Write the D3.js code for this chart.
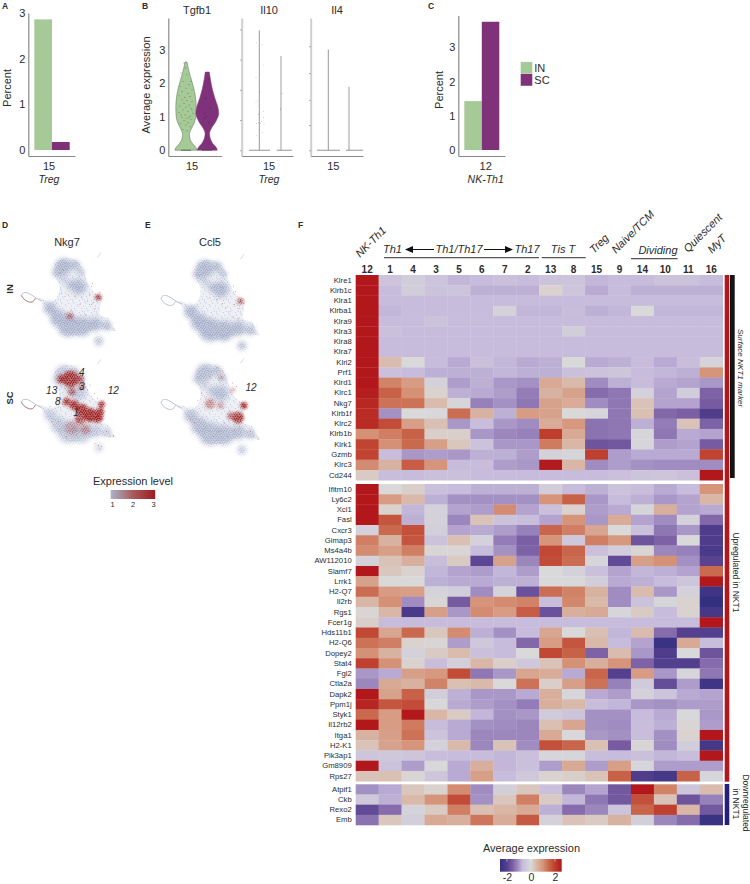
<!DOCTYPE html>
<html>
<head>
<meta charset="utf-8">
<script src="https://cdn.jsdelivr.net/npm/d3@7"></script>
<style>
  html, body { margin: 0; padding: 0; background: #fff; }
  svg { display: block; }
  text { font-family: "Liberation Sans", Arial, sans-serif; fill: #2b2b2b; }
</style>
</head>
<body>
<div id="chart"></div>
<script>
// Colours
const green = "#a5c997", purple = "#7f3279";
const axisGrey = "#8a8a8a";

// Panel A and C bars
const groups = ["IN", "SC"];
const tregPercent = [2.86, 0.175];
const nkth1Percent = [1.43, 3.75];

// Panel B violin outlines: [value, half width]
const tgfb1In = [[0, 11.2], [0.08, 10], [0.2, 6.5], [0.32, 4.2], [0.47, 3.4], [0.62, 5], [0.8, 8], [1, 9.8], [1.3, 10.2], [1.6, 9.4], [1.9, 7.4], [2.2, 4.4], [2.45, 2.2], [2.63, 1]];
const tgfb1Sc = [[0, 10], [0.08, 9], [0.2, 5.5], [0.35, 3], [0.5, 2.2], [0.65, 4], [0.85, 8.4], [1.1, 11.4], [1.3, 10.4], [1.55, 7.6], [1.8, 5.2], [2.1, 3.2], [2.33, 2]];
// jittered cells: [offset, value]
const tgfb1InDots = [[-5, 2.3], [1, 2.25], [5, 2.05], [-3, 2.05], [3, 1.95], [-6, 1.9], [0, 1.85], [6, 1.8], [-4, 1.75], [2, 1.7], [-7, 1.62], [4, 1.6], [-1, 1.58], [-4, 1.5], [1, 1.48], [6, 1.45], [-2, 1.4], [3, 1.35], [-6, 1.32], [0, 1.28], [5, 1.25], [-3, 1.2], [2, 1.15], [-7, 1.12], [7, 1.1], [-1, 1.05], [4, 1.02], [-4, 0.98], [1, 0.95], [5, 0.92], [-2, 0.88], [2, 0.82], [-5, 0.8], [0, 0.75], [4, 0.7], [-3, 0.62], [1, 0.58], [-0.5, 2.45], [-2, 2.6], [6, 1.2], [-5, 1.05], [3, 0.98]];
const tgfb1ScDots = [[1, 2.1], [-2, 1.55], [3, 1.25], [-1, 1], [-3, 0.95], [1, 0.82], [-2.5, 1.1]];
const il10InDots = [[-2.7, 3.2], [3, 3.14], [4, 2.54], [-3.3, 2.17], [0.7, 1.73], [-2, 1.47], [-3.3, 1.43], [0, 1.11], [-1, 1.07], [4, 1.16], [4, 0.97], [2.3, 0.86], [-1, 0.82], [1.3, 0.8], [4.7, 0.78], [-2.7, 0.8], [3.3, 0.53], [-2.7, 0.43]];
const il10ScDots = [[0, 1.69], [1.7, 1.69], [-0.3, 1.24], [-0.3, 1.2]];
const il10Max = [3.57, 2.81];
const il4Max = [3, 1.89];

// Panel D/E: UMAP in common units
const bodyOutline = [[195, 130], [225, 135], [248, 160], [262, 200], [285, 235], [305, 245], [302, 270], [300, 300], [325, 310], [335, 330], [348, 347], [320, 345], [295, 342], [260, 350], [225, 362], [190, 350], [165, 320], [140, 285], [120, 258], [108, 252], [125, 250], [150, 262], [168, 250], [178, 215], [165, 180], [165, 150]];
const tailLoop = [[125, 258], [102, 246], [86, 233], [70, 232], [63, 240], [70, 252], [85, 262], [100, 262], [106, 250]];
const tailRed = [[63, 240], [70, 252], [85, 262], [100, 262], [106, 250]];
const topTip = [[292, 128], [297, 120], [303, 113]];
const denseBlobs = [[190, 155, 24], [172, 172, 14], [225, 150, 13], [242, 170, 9], [235, 215, 22], [212, 208, 12], [190, 192, 8], [150, 280, 18], [175, 310, 24], [205, 332, 32], [245, 335, 28], [285, 328, 20], [320, 333, 12], [296, 378, 11]];

// red clusters: [u, v, r, opacity]
const nkg7InBlobs = [[295, 247, 9, 0.8], [210, 303, 10, 0.5]];
const nkg7ScBlobs = [[212, 172, 24, 0.9], [185, 172, 13, 0.85], [240, 172, 11, 0.7], [200, 240, 11, 0.9], [222, 250, 14, 0.9], [245, 265, 18, 0.95], [270, 280, 20, 1], [292, 285, 17, 1], [305, 248, 9, 1], [300, 270, 11, 1], [240, 292, 15, 0.7], [215, 210, 11, 0.55], [245, 195, 9, 0.5], [215, 318, 20, 0.25], [255, 322, 16, 0.3]];
const ccl5InBlobs = [[292, 249, 8, 0.65]];
const ccl5ScBlobs = [[302, 250, 9, 1], [285, 285, 16, 0.85], [265, 280, 11, 0.5], [205, 245, 14, 0.4], [235, 250, 10, 0.3], [235, 170, 7, 0.3], [270, 205, 7, 0.35]];
// single red cells: [u, v]
const nkg7InDots = [[278, 205], [275, 215], [205, 240], [225, 243], [245, 248], [262, 258], [275, 268], [285, 282], [258, 300], [240, 268], [195, 245], [185, 235], [215, 285], [195, 295], [225, 320], [190, 165], [180, 175], [300, 232], [268, 240], [280, 262]];
const nkg7ScDots = [[270, 190], [283, 215], [292, 230], [262, 205], [180, 215], [195, 200], [170, 240], [155, 300], [175, 300], [320, 330], [330, 345], [340, 342], [285, 365], [295, 372], [300, 382], [305, 375], [200, 345], [230, 340], [260, 335], [150, 255]];
const ccl5InDots = [[272, 205], [278, 222], [275, 258], [262, 280], [268, 295], [285, 300], [240, 255], [205, 240], [225, 245], [250, 268], [282, 262], [300, 255], [290, 270]];
const ccl5ScDots = [[150, 292], [160, 300], [230, 325], [215, 340], [255, 340], [320, 325], [330, 340], [342, 348], [225, 140], [240, 150], [270, 185], [280, 195], [205, 165], [195, 225], [180, 215], [170, 235], [245, 300], [275, 320], [290, 312]];
const clusterTagsD = [["4", 245, 152], ["3", 245, 195], ["13", 155, 205], ["8", 173, 240], ["1", 228, 272], ["12", 340, 205]];
const clusterTagsE = [["12", 322, 197]];
// speckle tile used to texture the cell clouds
const speckle = [[0.6, 1.1], [2.9, 0.3], [5.1, 1.4], [7.4, 0.5], [9.8, 1.2], [11.3, 2.6], [1.8, 2.9], [4.2, 3.1], [6.6, 2.4], [8.7, 3.2], [0.3, 4.6], [2.7, 5.2], [5.4, 4.7], [7.5, 4.9], [10.2, 4.4], [11.6, 6.1], [1.4, 6.9], [3.9, 6.7], [6.3, 6.5], [8.9, 6.8], [0.5, 8.6], [2.6, 8.4], [5, 8.8], [7.4, 8.3], [9.9, 8.5], [11.4, 9.6], [1.7, 10.4], [3.8, 10.6], [6.2, 10.2], [8.6, 10.5], [0.2, 11.7], [4.9, 11.5], [7.3, 11.8], [10.3, 11.2]];

// Panel F heatmap
const clusters = ["12", "1", "4", "3", "5", "6", "7", "2", "13", "8", "15", "9", "14", "10", "11", "16"];
const surfaceGenes = ["Klre1", "Klrb1c", "Klra1", "Klrba1", "Klra9", "Klra3", "Klra8", "Klra7", "Klri2", "Prf1", "Klrd1", "Klrc1", "Nkg7", "Klrb1f", "Klrc2", "Klrb1b", "Klrk1", "Gzmb", "Klrc3", "Cd244"];
const surfaceValues = [
  [2.6, -.5, -.3, -.5, -.75, -.7, -.6, -.7, -.55, -.5, -.75, -.7, -.7, -.55, -.55, -.7],
  [2.6, -.7, -.3, -.55, -.5, -.8, -.8, -.8, .1, -.45, -.85, -.7, -.8, -.8, -.8, -.8],
  [2.6, -.7, -.7, -.7, -.7, -.7, -.7, -.7, -.7, -.7, -.7, -.7, -.7, -.7, -.7, -.7],
  [2.6, -.75, -.7, -.7, -.7, -.7, -.2, -.75, -.75, -.65, -.8, -.75, 0, -.75, -.75, -.75],
  [2.6, -.7, -.7, -.55, -.7, -.7, -.7, -.7, -.7, -.7, -.7, -.7, -.7, -.7, -.7, -.7],
  [2.6, -.6, -.7, -.7, -.7, -.7, -.7, -.7, -.7, -.3, -.7, -.7, -.7, -.7, -.7, -.7],
  [2.6, -.7, -.7, -.7, -.7, -.7, -.7, -.7, -.7, -.7, -.7, -.7, -.7, -.7, -.7, -.7],
  [2.6, -.7, -.7, -.7, -.7, -.7, -.7, -.7, -.7, -.7, -.7, -.7, -.7, -.7, -.7, -.7],
  [2.6, .4, 0, -.7, -.85, -.6, -.75, -.85, -.8, 0, -.85, -.8, -.7, -.85, -.65, -.15],
  [2.6, -.6, -.7, -.8, -.8, -.8, -.75, -.8, -.8, -.6, -.55, -.45, -.7, -.75, -.8, 1],
  [2.6, 1.2, .9, -.2, -.95, -.8, -1, -1.05, .7, .45, -1.1, -.8, -.7, -.85, -.9, -1],
  [2.5, 1.6, 1.05, .1, -.8, -.85, -.95, -1.25, .55, .8, -1.4, -1.3, -.2, -.9, -.3, -1.5],
  [2.35, 1.4, 1.4, .4, -.1, -1.2, -1.05, -1.3, .8, .65, -1.1, -1.3, .3, -.9, -.9, -1.6],
  [2.3, -1.05, 0, -.05, 1.45, .55, -.8, .9, .8, 0, -.1, -1.3, .35, -1.45, -1.55, -2.1],
  [2.3, 1.85, .85, .35, -1, -.65, -1, -1.1, .65, .95, -1.35, -1.3, -.8, -1.25, .3, -1.5],
  [1.05, 1.25, 1.6, .15, .15, -1, -1.15, -1.2, 2.05, .7, -1.35, -1.3, -.1, -1.3, -.85, -.9],
  [1.95, 1.05, 1.5, .85, .25, -.55, -1, -1, 1.3, .5, -1.7, -1.65, -.1, -.95, -.9, -1.6],
  [1.95, -.65, -1, -.95, -1, -.8, -.8, -.95, -.2, -.1, 2, -.95, -.85, -.85, -.85, 1.95],
  [1.1, .55, 1.65, 1, -.7, -.65, -.95, -1, 2.55, .5, -1.1, -.95, -1.05, -1.1, -1.1, -1.1],
  [.2, -.65, -.7, -.6, -.6, -.7, -.7, -.7, -.7, -.7, -.7, -.6, -.5, -.45, -.6, 2.6]
];
const upGenes = ["Ifitm10", "Ly6c2", "Xcl1", "Fasl", "Cxcr3", "Gimap3", "Ms4a4b", "AW112010", "Slamf7", "Lrrk1", "H2-Q7", "Il2rb", "Rgs1", "Fcer1g", "Hds11b1", "H2-Q6", "Dopey2", "Stat4", "Fgl2", "Ctla2a", "Dapk2", "Ppm1j", "Styk1", "Il12rb2", "Itga1", "H2-K1", "Pik3ap1", "Gm8909", "Rps27"];
const upValues = [
  [2.6, 0, .15, -.6, -.7, -.8, -.8, -.8, -.3, -.7, -.8, -.55, -.65, -.85, -.7, 1],
  [2.6, .9, .45, -.8, -1.05, -1.05, -1.05, -1.05, 1, 1.6, -1, -.7, -.8, -1, -.9, .5],
  [2.6, .1, -.75, -.2, -.9, -.95, 1.1, -.9, -.6, .1, -.95, -.85, -.1, .6, -.9, -.85],
  [2.6, 1.75, -.8, -.2, -1.15, .3, -.55, -.65, -.9, 1, -1, .65, -.9, -1.1, -.2, -1.45],
  [-.2, 1.5, 1.8, -.25, -.9, -.85, -.95, -1.2, 1.55, 1.25, .75, 0, -.6, -1.3, -1, -2.1],
  [1.25, .55, 1.75, -.55, .35, -.2, -1.25, -1.55, 1, -.4, 1.25, .95, -1.7, -1.5, 0, -2.1],
  [1.1, .85, 1.25, .05, .05, -.7, -1.05, -1.5, 1.9, 1.55, -.6, -.3, .05, -1.15, -1.2, -2.2],
  [-.15, .3, .6, -.65, .2, -1.9, .8, -1.15, 1.85, 1.45, -.1, -1.85, .85, 1.05, -1.05, -1.95],
  [2.6, .25, .1, -.75, -.9, -.95, -.75, -.95, 0, -.2, -.6, -.9, -.75, -.8, -.9, 1.5],
  [.8, 0, 0, -.8, -.85, -.85, -.8, -.8, 0, -.05, -.3, -.85, -.8, -.7, -.45, 2.6],
  [1.45, .9, .85, -.15, -.3, -1.1, -.15, -1.75, 1.45, 1.2, .55, -1.1, .4, -1, -.2, -2.4],
  [.5, 1.05, -1.1, .05, -1.6, 1, 1.1, 1.2, -.65, 1.15, .45, -1.1, -.55, -.1, .1, -2.6],
  [.05, .5, -2.2, .85, -1, 1.1, .9, 1.65, -1.75, .6, .7, -.1, .2, -.7, .1, -2.3],
  [.15, -.7, -.7, -.7, -.7, -.7, -.7, -.7, -.7, -.7, -.7, -.7, -.7, -.7, -.7, 2.6],
  [1.9, .75, 1.5, .25, 1.1, -.8, -1.05, -.7, .75, 0, .35, -.75, .4, -1.4, -2, -2.05],
  [1.4, 1.25, .1, .05, -.95, -.4, -.7, -1.45, .9, 1.75, .45, -.7, -.9, -2.5, .7, -.65],
  [1.05, .55, -.2, .2, .4, -.6, -.7, 0, 1.9, 1.6, -1.5, .4, -1, -2.1, 0, -1.7],
  [2, 1.05, .1, -.65, -.25, .5, .15, -.4, .3, 1.05, .6, 1, -1.5, -2.05, -2.05, -1.4],
  [-1, -.85, .85, .95, 1.85, -1.3, -1, .75, .65, -.85, 1.55, -2, .9, -1, -.1, -1.3],
  [-1.15, .7, .55, 1.2, .35, .45, 0, 1.4, .15, .85, 1.4, -1.2, -.35, -1.8, -.95, -2.4],
  [2.6, .8, 1.6, -.3, -.8, -1, -1, -.85, .6, -.1, -.85, -.95, -.2, -.5, -.85, -.9],
  [2.4, 1.75, 1.85, -.05, -.85, -.95, -1.05, -1.25, .6, .45, -.65, -.75, -1, -1.05, -.95, -.95],
  [1.5, .9, 2.6, .5, .2, -.75, -1.05, -1, -.35, -.5, -1.05, -1.05, -.7, -.85, -.05, -1],
  [2.6, .9, 1.3, -.7, -.85, -1.05, -1.1, -1.15, .35, .75, -1.05, -1.1, -.65, -.8, .05, -.95],
  [.55, .85, 1.4, -.5, -.85, -1.15, -1.15, -1.15, .7, -.05, -1, -1.05, -.65, -1.05, .1, 2.6],
  [.3, .8, 1, -.2, .45, -1.15, .3, -1.1, 1.8, 1.55, .35, -1.6, .05, -1.1, -.3, -2.3],
  [-.45, -.4, -.45, -.65, -.7, -.7, -.75, -.6, -.1, -.1, -.65, -.7, -.6, -.75, -.65, 2.6],
  [2.6, -.55, -.95, -.05, -.85, .6, -.75, -.6, -.95, .7, -.95, .85, -.1, -.95, -.95, -.95],
  [.3, .35, .05, -.45, -.85, .85, -.7, -.4, .1, .15, .3, 1.6, -2.1, -2.3, 1.6, -.1]
];
const downGenes = ["Atpif1", "Ckb", "Rexo2", "Emb"];
const downValues = [
  [-1.05, -.85, .25, .1, 1.1, -1.1, -.25, .25, -.6, -1.15, -.9, -1.65, 2.6, 1.2, -.45, .4],
  [-.4, -.8, .45, 1, 1.85, -1.05, .25, 1.25, .2, -.75, -1.3, -1.65, 1.8, .3, -1.7, -1.2],
  [-1.85, -1.4, -.15, .2, 1.25, .35, .5, .7, -.8, -1.4, -1.15, -.5, 1.55, 2, .5, -1.65],
  [-1.35, .25, -.25, .7, .6, 1.35, .65, 1.7, -.2, .3, .2, .55, -.25, -1.15, -1.4, -2.5]
];
const colorStops = [-2.6, -2, -1.5, -1.05, -.7, 0, .4, 1, 1.5, 2, 2.6];
const colorValues = ["#33307f", "#55408f", "#7e62a6", "#a491c4", "#c7bcdc", "#d9d9d9", "#d9bcae", "#d6957a", "#c9694d", "#bf402e", "#b2171b"];
const legendTicks = [-2, 0, 2];

const svg = d3.select("#chart").append("svg")
  .attr("width", 750)
  .attr("height", 884);

const defs = svg.append("defs");
[["blur1", 1.5], ["blur2", 2.6], ["blur0", 0.5]].forEach(f => {
  defs.append("filter").attr("id", f[0]).attr("x", "-50%").attr("y", "-50%").attr("width", "200%").attr("height", "200%")
    .append("feGaussianBlur").attr("stdDeviation", f[1]);
});

function speckleTile(id, list, fill, r) {
  const p = defs.append("pattern").attr("id", id).attr("patternUnits", "userSpaceOnUse")
    .attr("width", 12).attr("height", 12);
  p.selectAll("circle").data(list).enter().append("circle")
    .attr("cx", d => d[0]).attr("cy", d => d[1]).attr("r", r).attr("fill", fill);
}
speckleTile("bodySpeckle", speckle.filter((d, i) => i % 3 === 0), "#c3c9dc", 0.6);
speckleTile("blueSpeckle", speckle, "#9ea8c4", 0.75);
speckleTile("redSpeckle", speckle, "#8f1415", 0.8);

function panelLetter(label, x, y) {
  svg.append("text").attr("x", x).attr("y", y)
    .attr("font-size", 8.5).attr("font-weight", "bold").text(label);
}
panelLetter("A", 2, 9);
panelLetter("B", 142, 9);
panelLetter("C", 428, 9);
panelLetter("D", 2, 228);
panelLetter("E", 145, 228);
panelLetter("F", 298, 228);

function styleAxis(g, size) {
  g.select(".domain").attr("stroke", axisGrey).attr("stroke-width", 1.2);
  g.selectAll("text").attr("font-size", size).attr("fill", "#2b2b2b")
    .attr("font-family", '"Liberation Sans", Arial, sans-serif');
}

// Bar panels A and C
function barPanel(values, opts) {
  const y = d3.scaleLinear().domain(opts.yDomain).range([156, opts.top]);
  const x = d3.scaleBand().domain(groups).range(opts.barX);
  svg.append("g").selectAll("rect").data(values).enter().append("rect")
    .attr("x", (d, i) => x(groups[i]))
    .attr("y", d => y(d))
    .attr("width", x.bandwidth())
    .attr("height", d => y(0) - y(d))
    .attr("fill", (d, i) => i ? purple : green);
  svg.append("g").attr("transform", `translate(${opts.axisX},0)`)
    .call(d3.axisLeft(y).tickValues([0, 1, 2, 3]).tickSize(0).tickPadding(3).tickFormat(d3.format("d")).tickSizeOuter(0))
    .call(styleAxis, 11);
  const xAxis = d3.scaleLinear().domain([0, 1]).range([opts.axisX, opts.axisEnd]);
  svg.append("g").attr("transform", "translate(0,156)")
    .call(d3.axisBottom(xAxis).tickValues([]).tickSizeOuter(0))
    .call(styleAxis, 11);
  svg.append("text").attr("x", opts.labelX).attr("y", 170).attr("text-anchor", "middle")
    .attr("font-size", 11).text(opts.cluster);
  svg.append("text").attr("x", opts.labelX).attr("y", 183).attr("text-anchor", "middle")
    .attr("font-size", 10.5).attr("font-style", "italic").text(opts.name);
  svg.append("text").attr("transform", `translate(${opts.titleX},${opts.titleY}) rotate(-90)`)
    .attr("text-anchor", "middle").attr("font-size", 11).text("Percent");
}
barPanel(tregPercent, { yDomain: [-6 / 45.7, 3], top: 13, barX: [34.3, 69.7], axisX: 28.3, axisEnd: 75, labelX: 49, cluster: "15", name: "Treg", titleX: 11, titleY: 88 });
barPanel(nkth1Percent, { yDomain: [-6 / 34.2, 3.93], top: 15.6, barX: [464.3, 499.3], axisX: 458.3, axisEnd: 505, labelX: 485.7, cluster: "12", name: "NK-Th1", titleX: 443, titleY: 90 });

// legend for bars
const barLegendY = d3.scaleBand().domain(groups).range([61.7, 86]).padding(0.02);
const barLegend = svg.append("g").selectAll("g").data(groups).enter().append("g");
barLegend.append("rect").attr("x", 520.7).attr("width", 11.6)
  .attr("y", d => barLegendY(d)).attr("height", barLegendY.bandwidth())
  .attr("fill", (d, i) => i ? purple : green);
barLegend.append("text").attr("x", 534.3).attr("y", d => barLegendY(d) + 10)
  .attr("font-size", 11).text(d => d);

// Violin panel B
const exprY = d3.scaleLinear().domain([-6 / 35, 3.94]).range([156, 18]);
const violinArea = d3.area().curve(d3.curveMonotoneY)
  .y(d => exprY(d[0]));

function violin(outline, center, fill, stroke) {
  const area = violinArea.x0(d => center - d[1]).x1(d => center + d[1]);
  svg.append("path").attr("d", area(outline))
    .attr("fill", fill).attr("stroke", stroke).attr("stroke-width", 0.5);
}
function dots(list, center, color, r) {
  svg.append("g").selectAll("circle").data(list).enter().append("circle")
    .attr("cx", d => center + d[0])
    .attr("cy", d => exprY(d[1]))
    .attr("r", r)
    .attr("fill", color);
}
function flatViolin(maxValue, center, x0, x1, color, w) {
  svg.append("line").attr("x1", center).attr("x2", center)
    .attr("y1", exprY(maxValue)).attr("y2", exprY(0))
    .attr("stroke", color).attr("stroke-width", w);
  svg.append("line").attr("x1", x0).attr("x2", x1)
    .attr("y1", exprY(0)).attr("y2", exprY(0))
    .attr("stroke", "#777").attr("stroke-width", 0.8);
}

violin(tgfb1In, 186, green, "#55704f");
violin(tgfb1Sc, 207.3, purple, purple);
dots(tgfb1InDots, 186, "#2f3d2c", 0.45);
dots(tgfb1ScDots, 207.3, "#2c1029", 0.45);
svg.append("line").attr("x1", 181).attr("x2", 191).attr("y1", exprY(0)).attr("y2", exprY(0)).attr("stroke", "#444").attr("stroke-width", 0.7);
svg.append("line").attr("x1", 202).attr("x2", 212).attr("y1", exprY(0)).attr("y2", exprY(0)).attr("stroke", "#444").attr("stroke-width", 0.7);

svg.append("g").attr("transform", "translate(168.3,0)")
  .call(d3.axisLeft(exprY).tickValues([0, 1, 2, 3]).tickSize(0).tickPadding(3).tickFormat(d3.format("d")).tickSizeOuter(0))
  .call(styleAxis, 11);
const tgfbX = d3.scaleLinear().domain([0, 1]).range([168.3, 221.7]);
svg.append("g").attr("transform", "translate(0,156)")
  .call(d3.axisBottom(tgfbX).tickValues([]).tickSizeOuter(0)).call(styleAxis, 11);
svg.append("text").attr("transform", "translate(150,85) rotate(-90)")
  .attr("text-anchor", "middle").attr("font-size", 11).text("Average expression");

function flatPanel(axisX, endX, ticks) {
  svg.append("g").attr("transform", `translate(${axisX},0)`)
    .call(d3.axisLeft(exprY).tickValues(ticks).tickSize(1.5).tickFormat("").tickSizeOuter(0))
    .call(g => g.select(".domain").attr("stroke", "#cfcfcf").attr("stroke-width", 2))
    .call(g => g.selectAll(".tick line").attr("stroke", "#999"));
  const xs = d3.scaleLinear().domain([0, 1]).range([axisX, endX]);
  svg.append("g").attr("transform", "translate(0,156)")
    .call(d3.axisBottom(xs).tickValues([]).tickSizeOuter(0)).call(styleAxis, 11);
}
flatPanel(241.7, 293, [0, 0.9, 1.8, 2.7, 3.6]);
flatPanel(310.7, 363, [0, 0.75, 1.5, 2.3, 3.1]);
flatViolin(il10Max[0], 259.3, 249, 270, "#8c8c8c", 0.9);
flatViolin(il10Max[1], 281, 276.7, 291.7, "#cfcfcf", 2);
flatViolin(il4Max[0], 328.3, 317, 340, "#8c8c8c", 0.9);
flatViolin(il4Max[1], 349, 346, 363, "#cfcfcf", 2);
dots(il10InDots, 259.3, "#777", 0.35);
dots(il10ScDots, 281, "#777", 0.35);

[["Tgfb1", 197], ["Il10", 269], ["Il4", 337]].forEach(t => {
  svg.append("text").attr("x", t[1]).attr("y", 14).attr("text-anchor", "middle").attr("font-size", 11).text(t[0]);
});
[[192], [269], [333.3]].forEach(t => {
  svg.append("text").attr("x", t[0]).attr("y", 170).attr("text-anchor", "middle").attr("font-size", 11).text("15");
});
svg.append("text").attr("x", 269).attr("y", 183).attr("text-anchor", "middle").attr("font-size", 10.5).attr("font-style", "italic").text("Treg");

// UMAP panels D and E
var maskCount = 0;
function softLayer(g, blobs, x, y, blurId, strength, pattern, under, underOpacity) {
  const id = `soft${maskCount++}`;
  const mask = defs.append("mask").attr("id", id).attr("maskUnits", "userSpaceOnUse")
    .attr("x", 0).attr("y", 0).attr("width", 750).attr("height", 884);
  mask.append("g").attr("filter", `url(#${blurId})`).selectAll("circle").data(blobs).enter().append("circle")
    .attr("cx", d => x(d[0])).attr("cy", d => y(d[1]))
    .attr("r", d => x(d[2]) - x(0))
    .attr("fill", "#fff").attr("fill-opacity", d => (d[3] === undefined ? 1 : d[3]) * strength);
  const [x0, x1] = x.range(), [y0, y1] = y.range();
  g.append("rect").attr("x", x0 - 10).attr("y", y0 - 10).attr("width", x1 - x0 + 20).attr("height", y1 - y0 + 20)
    .attr("fill", under).attr("fill-opacity", underOpacity).attr("mask", `url(#${id})`);
  g.append("rect").attr("x", x0 - 10).attr("y", y0 - 10).attr("width", x1 - x0 + 20).attr("height", y1 - y0 + 20)
    .attr("fill", `url(#${pattern})`).attr("mask", `url(#${id})`);
}

function umapPanel(xRange, yRange, redBlobs, redDots, redTail, denseOpacity, tags) {
  const x = d3.scaleLinear().domain([60, 350]).range(xRange);
  const y = d3.scaleLinear().domain([130, 390]).range(yRange);
  const line = d3.line().x(d => x(d[0])).y(d => y(d[1])).curve(d3.curveBasis);
  const body = d3.line().x(d => x(d[0])).y(d => y(d[1])).curve(d3.curveCatmullRomClosed);
  const g = svg.append("g");
  g.append("path").attr("d", body(bodyOutline)).attr("fill", "#eef0f6").attr("filter", "url(#blur0)");
  g.append("path").attr("d", body(bodyOutline)).attr("fill", "url(#bodySpeckle)");
  softLayer(g, denseBlobs, x, y, "blur2", denseOpacity, "blueSpeckle", "#b4bbd2", 0.75);
  g.append("path").attr("d", line(tailLoop)).attr("fill", "none").attr("stroke", "#b4bbd0").attr("stroke-width", 0.9);
  if (redTail) {
    g.append("path").attr("d", line(tailRed)).attr("fill", "none").attr("stroke", "#bb6a62").attr("stroke-width", 0.7);
  }
  g.append("path").attr("d", line(topTip)).attr("fill", "none").attr("stroke", "#c4cadb").attr("stroke-width", 0.7);
  softLayer(g, redBlobs, x, y, "blur1", 1, "redSpeckle", "#a82a2a", 0.7);
  g.append("g").selectAll("circle").data(redDots).enter().append("circle")
    .attr("cx", d => x(d[0])).attr("cy", d => y(d[1]))
    .attr("r", 0.45)
    .attr("fill", "#b4453c");
  g.append("g").selectAll("text").data(tags).enter().append("text")
    .attr("x", d => x(d[1])).attr("y", d => y(d[2]) + 3.5)
    .attr("text-anchor", "middle").attr("font-size", 10).attr("font-style", "italic").text(d => d[0]);
}
umapPanel([20, 116.7], [258.3, 345], nkg7InBlobs, nkg7InDots, true, 1, []);
umapPanel([20, 116.7], [365, 451.7], nkg7ScBlobs, nkg7ScDots, true, 0.6, clusterTagsD);
umapPanel([159.3, 260.8], [260, 349.9], ccl5InBlobs, ccl5InDots, false, 1, []);
umapPanel([159.3, 260.8], [364, 453.9], ccl5ScBlobs, ccl5ScDots, false, 0.85, clusterTagsE);

svg.append("text").attr("x", 67).attr("y", 246).attr("text-anchor", "middle").attr("font-size", 11).text("Nkg7");
svg.append("text").attr("x", 210).attr("y", 246).attr("text-anchor", "middle").attr("font-size", 11).text("Ccl5");
svg.append("text").attr("transform", "translate(13,289) rotate(-90)").attr("text-anchor", "middle").attr("font-size", 9.5).attr("font-weight", "bold").text("IN");
svg.append("text").attr("transform", "translate(13,398) rotate(-90)").attr("text-anchor", "middle").attr("font-size", 9.5).attr("font-weight", "bold").text("SC");

// Expression level legend
const exprGrad = defs.append("linearGradient").attr("id", "exprGrad");
exprGrad.append("stop").attr("offset", "0%").attr("stop-color", "#aab2ca");
exprGrad.append("stop").attr("offset", "50%").attr("stop-color", "#a85a5a");
exprGrad.append("stop").attr("offset", "100%").attr("stop-color", "#a01a1e");
const exprLegend = d3.scaleLinear().domain([1, 3]).range([112, 153]);
svg.append("rect").attr("x", 110.7).attr("y", 490).attr("width", 44.5).attr("height", 9).attr("fill", "url(#exprGrad)");
svg.append("g").attr("transform", "translate(0,499)")
  .call(d3.axisBottom(exprLegend).tickValues([1, 2, 3]).tickSize(0).tickPadding(3).tickFormat(d3.format("d")))
  .call(g => g.select(".domain").remove())
  .call(g => g.selectAll("text").attr("font-size", 7.5));
svg.append("text").attr("x", 133).attr("y", 485).attr("text-anchor", "middle").attr("font-size", 11).text("Expression level");

// Heatmap panel F
const color = d3.scaleLinear().domain(colorStops).range(colorValues).clamp(true);
const colX = d3.scaleBand().domain(clusters).range([355.7, 722.7]);

function heatGroup(genes, values, top, bottom) {
  const rowY = d3.scaleBand().domain(genes).range([top, bottom]);
  const rows = svg.append("g").selectAll("g").data(values).enter().append("g")
    .attr("transform", (d, i) => `translate(0,${rowY(genes[i])})`);
  rows.selectAll("rect").data(d => d).enter().append("rect")
    .attr("x", (d, i) => colX(clusters[i]))
    .attr("width", colX.bandwidth() + 0.3)
    .attr("height", rowY.bandwidth() + 0.3)
    .attr("fill", d => color(d));
  svg.append("g").attr("transform", "translate(354.7,0)")
    .call(d3.axisLeft(rowY).tickSize(0).tickPadding(3))
    .call(g => g.select(".domain").remove())
    .call(g => g.selectAll("text").attr("font-size", 7.7).attr("fill", "#2b2b2b")
      .attr("font-family", '"Liberation Sans", Arial, sans-serif'));
}
heatGroup(surfaceGenes, surfaceValues, 275, 480.2);
heatGroup(upGenes, upValues, 484, 781.2);
heatGroup(downGenes, downValues, 784.3, 825);

// cluster numbers
svg.append("g").selectAll("text").data(clusters).enter().append("text")
  .attr("x", d => colX(d) + colX.bandwidth() / 2)
  .attr("y", 272.5).attr("text-anchor", "middle")
  .attr("font-size", 10).attr("font-weight", "bold").text(d => d);

// cluster group names
[["NK-Th1", 360, 258], ["Treg", 594, 254], ["Naive/TCM", 616, 254], ["Quiescent", 688, 253], ["MyT", 712, 254]].forEach(t => {
  svg.append("text").attr("transform", `translate(${t[1]},${t[2]}) rotate(-45)`)
    .attr("font-size", 11).attr("font-style", "italic").text(t[0]);
});
[["Th1", 392.5, 253], ["Th1/Th17", 459, 253], ["Th17", 527, 253], ["Tis T", 563, 253], ["Dividing", 658, 254]].forEach(t => {
  svg.append("text").attr("x", t[1]).attr("y", t[2]).attr("text-anchor", "middle")
    .attr("font-size", 11).attr("font-style", "italic").text(t[0]);
});
[[384, 539, 257.7], [541.7, 585.7, 257.7], [631, 677.7, 258.7]].forEach(l => {
  svg.append("line").attr("x1", l[0]).attr("x2", l[1]).attr("y1", l[2]).attr("y2", l[2])
    .attr("stroke", "#555").attr("stroke-width", 1.3);
});
// arrows either side of Th1/Th17
const arrowHead = defs.append("marker").attr("id", "arrow").attr("markerWidth", 8).attr("markerHeight", 7)
  .attr("refX", 7).attr("refY", 3.5).attr("orient", "auto-start-reverse").attr("markerUnits", "userSpaceOnUse");
arrowHead.append("path").attr("d", "M0,0L8,3.5L0,7Z").attr("fill", "#111");
svg.append("line").attr("x1", 434).attr("x2", 406).attr("y1", 249.5).attr("y2", 249.5)
  .attr("stroke", "#111").attr("stroke-width", 1).attr("marker-end", "url(#arrow)");
svg.append("line").attr("x1", 484).attr("x2", 512).attr("y1", 249.5).attr("y2", 249.5)
  .attr("stroke", "#111").attr("stroke-width", 1).attr("marker-end", "url(#arrow)");

// side bars
[[724.7, 275, 4.6, 506.7, "#b2171b"], [730, 275, 4.7, 203, "#141414"], [724.7, 784, 4.6, 41, "#241f7a"]].forEach(b => {
  svg.append("rect").attr("x", b[0]).attr("y", b[1]).attr("width", b[2]).attr("height", b[3]).attr("fill", b[4]);
});
svg.append("text").attr("transform", "translate(738,368) rotate(90)").attr("text-anchor", "middle").attr("font-size", 8.1).attr("font-style", "italic").text("Surface NKT1 marker");
svg.append("text").attr("transform", "translate(733,572.5) rotate(90)").attr("text-anchor", "middle").attr("font-size", 8.6).text("Upregulated in NKT1");
svg.append("text").attr("transform", "translate(743,803) rotate(90)").attr("text-anchor", "middle").attr("font-size", 8.5).text("Downregulated");
svg.append("text").attr("transform", "translate(733,804) rotate(90)").attr("text-anchor", "middle").attr("font-size", 8.5).text("in NKT1");

// colour legend
const legendX = d3.scaleLinear().domain([-2.58, 2.56]).range([500, 561.7]);
const heatGrad = defs.append("linearGradient").attr("id", "heatGrad");
colorStops.forEach((s, i) => {
  heatGrad.append("stop")
    .attr("offset", (s + 2.6) / 5.2 * 100 + "%")
    .attr("stop-color", colorValues[i]);
});
svg.append("rect").attr("x", 500).attr("y", 859).attr("width", 61.7).attr("height", 12.7).attr("fill", "url(#heatGrad)");
svg.append("g").attr("transform", "translate(0,871.7)")
  .call(d3.axisBottom(legendX).tickValues(legendTicks).tickSize(0).tickPadding(2).tickFormat(d3.format("d")))
  .call(g => g.select(".domain").remove())
  .call(g => g.selectAll("text").attr("font-size", 10.5).attr("fill", "#2b2b2b")
    .attr("font-family", '"Liberation Sans", Arial, sans-serif').text(d => d));
svg.append("g").selectAll("line").data(legendTicks).enter().append("line")
  .attr("x1", d => legendX(d)).attr("x2", d => legendX(d))
  .attr("y1", 859).attr("y2", 861.5).attr("stroke", "#fff").attr("stroke-width", 0.5);
svg.append("text").attr("x", 531.5).attr("y", 851.5).attr("text-anchor", "middle").attr("font-size", 11).text("Average expression");
</script>
</body>
</html>
